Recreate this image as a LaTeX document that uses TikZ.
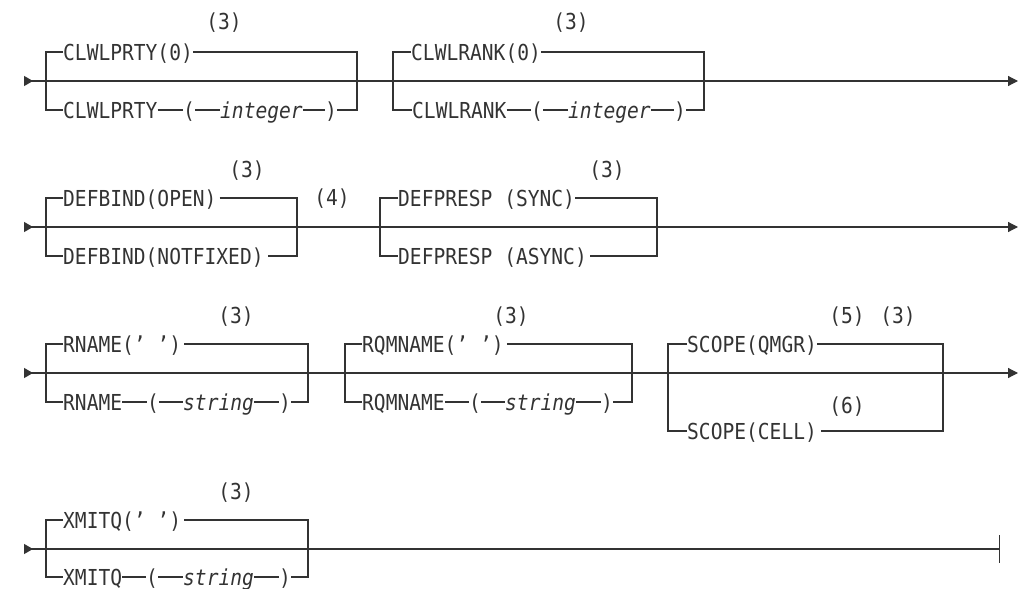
\documentclass[tikz,border=0pt]{standalone}
\usepackage{fontspec}
\setmonofont[FakeStretch=0.89]{DejaVu Sans Mono}
\usetikzlibrary{arrows.meta}
\definecolor{ink}{gray}{0.2}

\begin{document}
\begin{tikzpicture}[x=1pt,y=-1pt,
  rail/.style={draw=ink,line width=1.2pt},
  opt/.style={anchor=west,inner sep=0pt,text height=16pt,text depth=0pt,text=ink,
    font=\ttfamily\fontsize{22}{26}\selectfont},
  par/.style={opt,anchor=center},
  var/.style={opt,font=\ttfamily\itshape\fontsize{22}{26}\selectfont},
  track/.style={rail,{Triangle[reversed,length=9pt,width=10pt]}-{Triangle[length=10pt,width=10pt]}}]
\useasboundingbox (0,0) rectangle (1021,589);

% row 1
\coordinate (s1) at (24,81); \coordinate (e1) at (1018,81);
\draw[track] (s1) -- (e1);
\node[opt] (prty0) at (63,52) {CLWLPRTY(0)};
\node[opt] (prtyN) at (63,110) {CLWLPRTY};
\node[par] (prtyL) at (189,110) {(};
\node[var] (prtyV) at (220,110) {integer};
\node[par] (prtyR) at (331,110) {)};
\node[par] (n1) at (224,22) {(3)};
\coordinate (a1) at (46,81); \coordinate (b1) at (357,81);
\draw[rail] (prty0.west) -| (a1) |- (prtyN.west);
\draw[rail] (prty0.east) -| (b1) |- (prtyR.east);
\draw[rail] (prtyN) -- (prtyL) -- (prtyV) -- (prtyR);
\node[opt] (rank0) at (411,52) {CLWLRANK(0)};
\node[opt] (rankN) at (412,110) {CLWLRANK};
\node[par] (rankL) at (537,110) {(};
\node[var] (rankV) at (568,110) {integer};
\node[par] (rankR) at (680,110) {)};
\node[par] (n2) at (571,22) {(3)};
\coordinate (a2) at (393,81); \coordinate (b2) at (704,81);
\draw[rail] (rank0.west) -| (a2) |- (rankN.west);
\draw[rail] (rank0.east) -| (b2) |- (rankR.east);
\draw[rail] (rankN) -- (rankL) -- (rankV) -- (rankR);

% row 2
\coordinate (s2) at (24,227); \coordinate (e2) at (1018,227);
\draw[track] (s2) -- (e2);
\node[opt] (bindO) at (63,198) {DEFBIND(OPEN)};
\node[opt] (bindN) at (63,256) {DEFBIND(NOTFIXED)};
\node[par] (n3) at (247,169) {(3)};
\node[par] (n4) at (332,197) {(4)};
\coordinate (a3) at (46,227); \coordinate (b3) at (297,227);
\draw[rail] (bindO.west) -| (a3) |- (bindN.west);
\draw[rail] ([xshift=3pt]bindO.east) -| (b3) |- ([xshift=4pt]bindN.east);
\node[opt] (respS) at (398,198) {DEFPRESP (SYNC)};
\node[opt] (respA) at (398,256) {DEFPRESP (ASYNC)};
\node[par] (n5) at (607,169) {(3)};
\coordinate (a4) at (380,227); \coordinate (b4) at (657,227);
\draw[rail] (respS.west) -| (a4) |- (respA.west);
\draw[rail] (respS.east) -| (b4) |- ([xshift=3pt]respA.east);

% row 3
\coordinate (s3) at (24,373); \coordinate (e3) at (1018,373);
\draw[track] (s3) -- (e3);
\node[opt] (rn0) at (63,344) {RNAME(’ ’)};
\node[opt] (rnN) at (63,402) {RNAME};
\node[par] (rnL) at (153,402) {(};
\node[var] (rnV) at (183,402) {string};
\node[par] (rnR) at (285,402) {)};
\node[par] (n6) at (236,315) {(3)};
\coordinate (a5) at (46,373); \coordinate (b5) at (308,373);
\draw[rail] (rn0.west) -| (a5) |- (rnN.west);
\draw[rail] ([xshift=3pt]rn0.east) -| (b5) |- (rnR.east);
\draw[rail] (rnN) -- (rnL) -- (rnV) -- (rnR);
\node[opt] (rq0) at (362,344) {RQMNAME(’ ’)};
\node[opt] (rqN) at (362,402) {RQMNAME};
\node[par] (rqL) at (475,402) {(};
\node[var] (rqV) at (505,402) {string};
\node[par] (rqR) at (607,402) {)};
\node[par] (n7) at (511,315) {(3)};
\coordinate (a6) at (345,373); \coordinate (b6) at (632,373);
\draw[rail] (rq0.west) -| (a6) |- (rqN.west);
\draw[rail] ([xshift=3pt]rq0.east) -| (b6) |- (rqR.east);
\draw[rail] (rqN) -- (rqL) -- (rqV) -- (rqR);
\node[opt] (scQ) at (687,344) {SCOPE(QMGR)};
\node[opt] (scC) at (687,431) {SCOPE(CELL)};
\node[par] (n8) at (847,315) {(5)};
\node[par] (n9) at (898,315) {(3)};
\node[par] (n10) at (847,405) {(6)};
\coordinate (a7) at (668,373); \coordinate (b7) at (943,373);
\draw[rail] (scQ.west) -| (a7) |- (scC.west);
\draw[rail] (scQ.east) -| (b7) |- ([xshift=4pt]scC.east);

% row 4
\coordinate (s4) at (24,549); \coordinate (e4) at (1000,549);
\draw[rail,{Triangle[reversed,length=9pt,width=10pt]}-{Bar[width=28pt]}] (s4) -- (e4);
\node[opt] (xq0) at (63,520) {XMITQ(’ ’)};
\node[opt] (xqN) at (63,577) {XMITQ};
\node[par] (xqL) at (152,577) {(};
\node[var] (xqV) at (183,577) {string};
\node[par] (xqR) at (285,577) {)};
\node[par] (n11) at (236,491) {(3)};
\coordinate (a8) at (46,549); \coordinate (b8) at (308,549);
\draw[rail] (xq0.west) -| (a8) |- (xqN.west);
\draw[rail] ([xshift=3pt]xq0.east) -| (b8) |- (xqR.east);
\draw[rail] (xqN) -- (xqL) -- (xqV) -- (xqR);
\draw[rail,line width=1.7pt] ([xshift=6pt]b8) -- ([xshift=30pt]b8);
\end{tikzpicture}
\end{document}
